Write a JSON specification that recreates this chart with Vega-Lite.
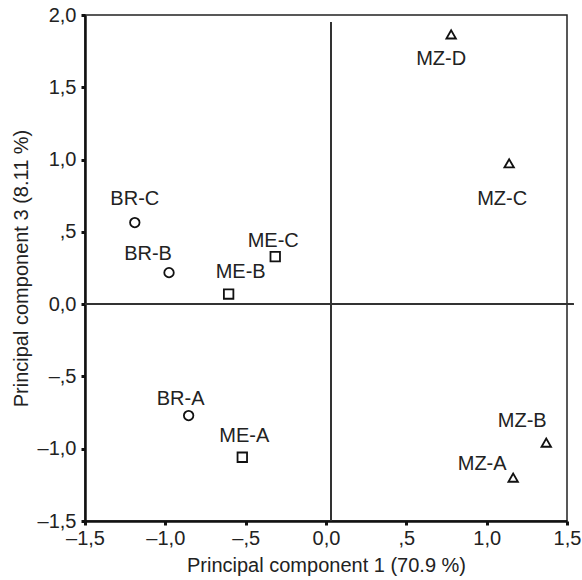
{
  "$schema": "https://vega.github.io/schema/vega-lite/v6.json",
  "width": 482,
  "height": 506,
  "autosize": {"type": "none"},
  "padding": {"left": 85, "top": 15, "right": 15, "bottom": 59},
  "background": "white",
  "config": {
    "font": "Liberation Sans",
    "view": {"stroke": "#222", "strokeWidth": 1.5},
    "axis": {
      "grid": false,
      "domainColor": "#111",
      "domainWidth": 2.5,
      "tickColor": "#111",
      "tickWidth": 3,
      "tickSize": 4,
      "labelFont": "Liberation Sans",
      "labelFontSize": 20,
      "labelColor": "#222",
      "labelFlush": false,
      "labelOverlap": false,
      "titleFont": "Liberation Sans",
      "titleFontSize": 20,
      "titleFontWeight": "normal",
      "titleColor": "#222"
    }
  },
  "datasets": {
    "pts": [
      {"label": "BR-A", "group": "BR", "pc1": -0.855, "pc3": -0.771},
      {"label": "BR-B", "group": "BR", "pc1": -0.977, "pc3": 0.218},
      {"label": "BR-C", "group": "BR", "pc1": -1.19, "pc3": 0.564},
      {"label": "ME-A", "group": "ME", "pc1": -0.521, "pc3": -1.059},
      {"label": "ME-B", "group": "ME", "pc1": -0.606, "pc3": 0.07},
      {"label": "ME-C", "group": "ME", "pc1": -0.316, "pc3": 0.329},
      {"label": "MZ-A", "group": "MZ", "pc1": 1.165, "pc3": -1.2},
      {"label": "MZ-B", "group": "MZ", "pc1": 1.371, "pc3": -0.958},
      {"label": "MZ-C", "group": "MZ", "pc1": 1.14, "pc3": 0.974},
      {"label": "MZ-D", "group": "MZ", "pc1": 0.779, "pc3": 1.866}
    ]
  },
  "data": {"name": "pts"},
  "encoding": {
    "x": {
      "field": "pc1", "type": "quantitative",
      "scale": {"domain": [-1.5, 1.5], "nice": false, "zero": false},
      "axis": {
        "title": "Principal component 1 (70.9 %)",
        "values": [-1.5, -1, -0.5, 0, 0.5, 1, 1.5],
        "labelPadding": 3,
        "titlePadding": 7,
        "labelExpr": "(datum.value < 0 ? '–' : '') + (abs(datum.value) == 0.5 ? ',5' : replace(format(abs(datum.value), '.1f'), '.', ','))"
      }
    },
    "y": {
      "field": "pc3", "type": "quantitative",
      "scale": {"domain": [-1.5, 2.0], "nice": false, "zero": false},
      "axis": {
        "title": "Principal component 3 (8.11 %)",
        "values": [-1.5, -1, -0.5, 0, 0.5, 1, 1.5, 2],
        "labelPadding": 5,
        "titlePadding": 6,
        "labelExpr": "(datum.value < 0 ? '–' : '') + (abs(datum.value) == 0.5 ? ',5' : replace(format(abs(datum.value), '.1f'), '.', ','))"
      }
    }
  },
  "layer": [
    {
      "mark": {"type": "rule", "color": "#333", "strokeWidth": 1.3},
      "encoding": {
        "x": {"datum": -1.5},
        "x2": {"datum": 1.54},
        "y": {"datum": 0}
      }
    },
    {
      "mark": {"type": "rule", "color": "#333", "strokeWidth": 1.3},
      "encoding": {
        "x": {"datum": 0.03},
        "y": {"datum": -1.5},
        "y2": {"datum": 1.95}
      }
    },
    {
      "mark": {"type": "point", "filled": false, "size": 90, "strokeWidth": 1.8, "color": "#111", "opacity": 1},
      "encoding": {
        "shape": {
          "field": "group", "type": "nominal",
          "scale": {"domain": ["BR", "ME", "MZ"], "range": ["circle", "square", "triangle-up"]},
          "legend": null
        }
      }
    },
    {"transform": [{"filter": "datum.label == 'BR-C'"}], "mark": {"type": "text", "fontSize": 20, "color": "#222", "baseline": "middle", "dx": 0, "dy": -24}, "encoding": {"text": {"field": "label"}}},
    {"transform": [{"filter": "datum.label == 'BR-B'"}], "mark": {"type": "text", "fontSize": 20, "color": "#222", "baseline": "middle", "dx": -21, "dy": -19}, "encoding": {"text": {"field": "label"}}},
    {"transform": [{"filter": "datum.label == 'BR-A'"}], "mark": {"type": "text", "fontSize": 20, "color": "#222", "baseline": "middle", "dx": -8, "dy": -17}, "encoding": {"text": {"field": "label"}}},
    {"transform": [{"filter": "datum.label == 'ME-C'"}], "mark": {"type": "text", "fontSize": 20, "color": "#222", "baseline": "middle", "dx": -2, "dy": -16}, "encoding": {"text": {"field": "label"}}},
    {"transform": [{"filter": "datum.label == 'ME-B'"}], "mark": {"type": "text", "fontSize": 20, "color": "#222", "baseline": "middle", "dx": 12, "dy": -22}, "encoding": {"text": {"field": "label"}}},
    {"transform": [{"filter": "datum.label == 'ME-A'"}], "mark": {"type": "text", "fontSize": 20, "color": "#222", "baseline": "middle", "dx": 2, "dy": -21}, "encoding": {"text": {"field": "label"}}},
    {"transform": [{"filter": "datum.label == 'MZ-D'"}], "mark": {"type": "text", "fontSize": 20, "color": "#222", "baseline": "middle", "dx": -10, "dy": 25}, "encoding": {"text": {"field": "label"}}},
    {"transform": [{"filter": "datum.label == 'MZ-C'"}], "mark": {"type": "text", "fontSize": 20, "color": "#222", "baseline": "middle", "dx": -7, "dy": 36}, "encoding": {"text": {"field": "label"}}},
    {"transform": [{"filter": "datum.label == 'MZ-B'"}], "mark": {"type": "text", "fontSize": 20, "color": "#222", "baseline": "middle", "dx": -24, "dy": -22}, "encoding": {"text": {"field": "label"}}},
    {"transform": [{"filter": "datum.label == 'MZ-A'"}], "mark": {"type": "text", "fontSize": 20, "color": "#222", "baseline": "middle", "dx": -31, "dy": -14}, "encoding": {"text": {"field": "label"}}}
  ]
}
